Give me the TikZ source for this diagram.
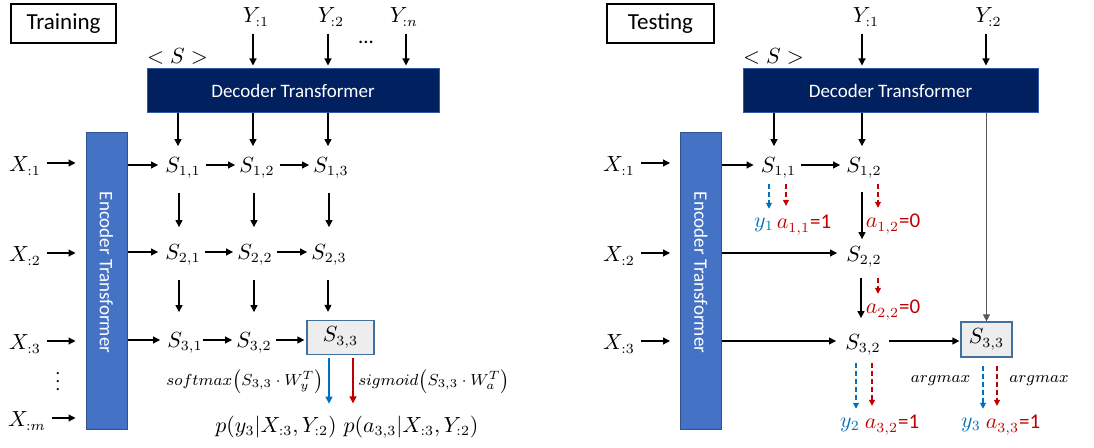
\documentclass[tikz,border=0pt]{standalone}
\usepackage{fontspec}
\setmainfont{Carlito}
\usepackage{graphicx}
\usetikzlibrary{arrows.meta}
\definecolor{navy}{HTML}{002060}
\definecolor{encblue}{HTML}{4472C4}
\definecolor{encborder}{HTML}{2F528F}
\definecolor{arrblue}{HTML}{0070C0}
\definecolor{arrred}{HTML}{C00000}
\definecolor{boxfill}{HTML}{EDEDED}
\definecolor{boxborder}{HTML}{41719C}
\definecolor{lingray}{HTML}{595959}
\tikzset{
  arr/.style={-{Triangle[length=3.5pt,width=3.5pt]}, line width=0.6pt},
  darr/.style={-{Triangle[length=3pt,width=3pt]}, line width=0.55pt, dash pattern=on 2.5pt off 1.5pt},
  mlbl/.style={inner sep=0pt, font=\fontsize{10.5}{12}\selectfont},
  slbl/.style={inner sep=0pt, font=\fontsize{8.5}{10}\selectfont},
  titlebox/.style={draw, line width=0.6pt, inner sep=0pt, minimum height=19.5pt, font=\fontsize{11.5}{13}\selectfont},
  decbox/.style={fill=navy, draw=encblue!70!navy, line width=0.5pt, text=white, inner sep=0pt, minimum height=22pt, font=\fontsize{9.5}{11}\selectfont},
  encbox/.style={fill=encblue, draw=encborder, line width=0.5pt, text=white, inner sep=0pt, minimum width=20.5pt, minimum height=148.5pt, font=\fontsize{9.5}{11}\selectfont},
  sbox/.style={fill=boxfill, draw=boxborder, line width=0.6pt, inner sep=0pt, font=\fontsize{10.5}{12}\selectfont},
  bluetxt/.style={mlbl, text=arrblue},
  redtxt/.style={mlbl, text=arrred},
}
\begin{document}
\begin{tikzpicture}[x=0.5pt, y=-0.5pt]
\useasboundingbox (0,0) rectangle (1094,448);

% ================= TRAINING =================
\node[titlebox, minimum width=52.5pt] (trainT) at (63.5,23.5) {Training};
\node[decbox, minimum width=146pt] (decL) at (293,91) {Decoder Transformer};
\node[encbox] (encL) at (106.5,281.5) {\rotatebox{-90}{Encoder Transformer\hspace{9pt}}};
\node[mlbl] (sL) at (177.5,56) {$<S>$};
\node[mlbl] (yL1) at (256,17) {$Y_{:1}$};
\node[mlbl] (yL2) at (331,17) {$Y_{:2}$};
\node[mlbl] (yLn) at (404,17) {$Y_{:n}$};
\node[mlbl] (dotsL) at (366,42) {...};
\node[mlbl] (xL1) at (25,166) {$X_{:1}$};
\node[mlbl] (xL2) at (25,256) {$X_{:2}$};
\node[mlbl] (xL3) at (25,344) {$X_{:3}$};
\node[inner sep=0pt, font=\fontsize{9}{10}\selectfont] (vdL) at (58,376) {$\vdots$};
\node[mlbl] (xLm) at (27,421) {$X_{:m}$};

\node[mlbl] (L11) at (183,168) {$S_{1,1}$};
\node[mlbl] (L12) at (257,168) {$S_{1,2}$};
\node[mlbl] (L13) at (331,168) {$S_{1,3}$};
\node[mlbl] (L21) at (183,255) {$S_{2,1}$};
\node[mlbl] (L22) at (255,255) {$S_{2,2}$};
\node[mlbl] (L23) at (329,255) {$S_{2,3}$};
\node[mlbl] (L31) at (185,343) {$S_{3,1}$};
\node[mlbl] (L32) at (254,343) {$S_{3,2}$};
\node[sbox, minimum width=33.5pt, minimum height=17pt] (L33) at (340.5,337.5) {$S_{3,3}$};
\node[slbl] (softL) at (245,381) {$softmax\bigl(S_{3,3}\cdot W_y^T\bigr)$};
\node[slbl] (sigL) at (434,381) {$sigmoid\bigl(S_{3,3}\cdot W_a^T\bigr)$};
\node[mlbl] (pYL) at (276,427) {$p(y_3|X_{:3},Y_{:2})$};
\node[mlbl] (pAL) at (411,427) {$p(a_{3,3}|X_{:3},Y_{:2})$};

% inputs to decoder
\draw[arr, shorten <=3.5pt, shorten >=1.5pt] ([xshift=-1.5pt]yL1.south) -- ([xshift=-1.5pt]yL1.south |- decL.north);
\draw[arr, shorten <=3.5pt, shorten >=1.5pt] ([xshift=-1.5pt]yL2.south) -- ([xshift=-1.5pt]yL2.south |- decL.north);
\draw[arr, shorten <=3.5pt, shorten >=1.5pt] ([xshift=1pt]yLn.south) -- ([xshift=1pt]yLn.south |- decL.north);
% decoder to states
\draw[arr, shorten >=5.5pt] ([xshift=-2.5pt]L11.north |- decL.south) -- ([xshift=-2.5pt]L11.north);
\draw[arr, shorten >=5.5pt] ([xshift=-2pt]L12.north |- decL.south) -- ([xshift=-2pt]L12.north);
\draw[arr, shorten >=5.5pt] ([xshift=-1.5pt]L13.north |- decL.south) -- ([xshift=-1.5pt]L13.north);
% X to encoder
\draw[arr, shorten <=3pt, shorten >=5pt] ([yshift=1.5pt]xL1.east) -- ([yshift=1.5pt]xL1.east -| encL.west);
\draw[arr, shorten <=3pt, shorten >=5pt] ([yshift=1.5pt]xL2.east) -- ([yshift=1.5pt]xL2.east -| encL.west);
\draw[arr, shorten <=3pt, shorten >=5pt] ([yshift=1.5pt]xL3.east) -- ([yshift=1.5pt]xL3.east -| encL.west);
\draw[arr, shorten <=3pt, shorten >=5pt] ([yshift=1.5pt]xLm.east) -- ([yshift=1.5pt]xLm.east -| encL.west);
% encoder to states
\draw[arr, shorten >=3.5pt] ([yshift=1.5pt]L11.west -| encL.east) -- ([yshift=1.5pt]L11.west);
\draw[arr, shorten >=3.5pt] ([yshift=1.5pt]L21.west -| encL.east) -- ([yshift=1.5pt]L21.west);
\draw[arr, shorten >=3.5pt] ([yshift=1.5pt]L31.west -| encL.east) -- ([yshift=1.5pt]L31.west);
% horizontal
\draw[arr, shorten <=2.5pt, shorten >=2pt] ([yshift=1.5pt]L11.east) -- ([yshift=1.5pt]L11.east -| L12.west);
\draw[arr, shorten <=2.5pt, shorten >=2pt] ([yshift=1.5pt]L12.east) -- ([yshift=1.5pt]L12.east -| L13.west);
\draw[arr, shorten <=2pt, shorten >=2pt] ([yshift=1.5pt]L21.east) -- ([yshift=1.5pt]L21.east -| L22.west);
\draw[arr, shorten <=2pt, shorten >=2pt] ([yshift=1.5pt]L22.east) -- ([yshift=1.5pt]L22.east -| L23.west);
\draw[arr, shorten <=0pt, shorten >=2pt] ([yshift=1.5pt]L31.east) -- ([yshift=1.5pt]L31.east -| L32.west);
\draw[arr, shorten <=2pt, shorten >=1pt] ([yshift=1.5pt]L32.east) -- ([yshift=1.5pt]L32.east -| L33.west);
% vertical
\draw[arr, shorten <=7pt, shorten >=8.5pt] ([xshift=-2pt]L11.south) -- ([xshift=-2pt]L11.south |- L21.north);
\draw[arr, shorten <=7pt, shorten >=8.5pt] ([xshift=-1.5pt]L12.south) -- ([xshift=-1.5pt]L12.south |- L22.north);
\draw[arr, shorten <=7pt, shorten >=8.5pt] ([xshift=-1pt]L13.south) -- ([xshift=-1pt]L13.south |- L23.north);
\draw[arr, shorten <=7pt, shorten >=10pt] ([xshift=-2pt]L21.south) -- ([xshift=-2pt]L21.south |- L31.north);
\draw[arr, shorten <=7pt, shorten >=10pt] ([xshift=-0.5pt]L22.south) -- ([xshift=-0.5pt]L22.south |- L32.north);
\draw[arr, shorten <=7pt, shorten >=4pt] ([xshift=-0.5pt]L23.south) -- ([xshift=-0.5pt]L23.south |- L33.north);
% outputs
\draw[arr, arrblue, shorten <=1.5pt, shorten >=6pt] ([xshift=-5.75pt]L33.south) -- ([xshift=-5.75pt]L33.south |- pYL.north);
\draw[arr, arrred, shorten <=1.5pt, shorten >=6pt] ([xshift=6.25pt]L33.south) -- ([xshift=6.25pt]L33.south |- pAL.north);

% ================= TESTING =================
\node[titlebox, minimum width=53.5pt] (testT) at (660.5,23.5) {Testing};
\node[decbox, minimum width=147.5pt] (decR) at (890.5,91) {Decoder Transformer};
\node[encbox] (encR) at (701,281.5) {\rotatebox{-90}{Encoder Transformer\hspace{9pt}}};
\node[mlbl] (sR) at (773.5,56) {$<S>$};
\node[mlbl] (yR1) at (866,17) {$Y_{:1}$};
\node[mlbl] (yR2) at (988.5,17) {$Y_{:2}$};
\node[mlbl] (xR1) at (619,166) {$X_{:1}$};
\node[mlbl] (xR2) at (619,256) {$X_{:2}$};
\node[mlbl] (xR3) at (619,344) {$X_{:3}$};

\node[mlbl] (R11) at (778.5,168) {$S_{1,1}$};
\node[mlbl] (R12) at (864,168) {$S_{1,2}$};
\node[mlbl] (R22) at (864,257) {$S_{2,2}$};
\node[mlbl] (R32) at (863,345) {$S_{3,2}$};
\node[sbox, minimum width=25.5pt, minimum height=17.5pt] (R33) at (986.5,339.5) {$S_{3,3}$};

\node[bluetxt] (y1R) at (764,225) {$y_1$};
\node[redtxt] (a11R) at (804,225) {$a_{1,1}$=1};
\node[redtxt] (a12R) at (893,224) {$a_{1,2}$=0};
\node[redtxt] (a22R) at (893,310) {$a_{2,2}$=0};
\node[bluetxt] (y2R) at (850,425) {$y_2$};
\node[redtxt] (a32R) at (892,425) {$a_{3,2}$=1};
\node[bluetxt] (y3R) at (971,425) {$y_3$};
\node[redtxt] (a33R) at (1013,425) {$a_{3,3}$=1};
\node[slbl] (amL) at (940.5,381) {$argmax$};
\node[slbl] (amR) at (1039,381) {$argmax$};

% inputs to decoder
\draw[arr, shorten <=3.5pt, shorten >=1.5pt] ([xshift=-2pt]yR1.south) -- ([xshift=-2pt]yR1.south |- decR.north);
\draw[arr, shorten <=3.5pt, shorten >=1.5pt] ([xshift=-1.25pt]yR2.south) -- ([xshift=-1.25pt]yR2.south |- decR.north);
% decoder to states
\draw[arr, shorten >=5.5pt] ([xshift=-2.25pt]R11.north |- decR.south) -- ([xshift=-2.25pt]R11.north);
\draw[arr, shorten >=5.5pt] ([xshift=-1pt]R12.north |- decR.south) -- ([xshift=-1pt]R12.north);
\draw[arr, lingray] (R33.north |- decR.south) -- (R33.north);
% X to encoder
\draw[arr, shorten <=3pt, shorten >=5pt] ([yshift=1.5pt]xR1.east) -- ([yshift=1.5pt]xR1.east -| encR.west);
\draw[arr, shorten <=3pt, shorten >=5pt] ([yshift=1.5pt]xR2.east) -- ([yshift=1.5pt]xR2.east -| encR.west);
\draw[arr, shorten <=3pt, shorten >=5pt] ([yshift=1.5pt]xR3.east) -- ([yshift=1.5pt]xR3.east -| encR.west);
% encoder to states
\draw[arr, shorten >=3.5pt] ([yshift=1.5pt]R11.west -| encR.east) -- ([yshift=1.5pt]R11.west);
\draw[arr, shorten >=4.5pt] ([yshift=2pt]R22.west -| encR.east) -- ([yshift=2pt]R22.west);
\draw[arr, shorten >=4.5pt] ([yshift=2pt]R32.west -| encR.east) -- ([yshift=2pt]R32.west);
% horizontal
\draw[arr, shorten <=2.5pt, shorten >=3pt] ([yshift=1.5pt]R11.east) -- ([yshift=1.5pt]R11.east -| R12.west);
\draw[arr, shorten <=4pt, shorten >=0.5pt] ([yshift=2pt]R32.east) -- ([yshift=2pt]R32.east -| R33.west);
% vertical
\draw[arr, shorten <=6.5pt, shorten >=3.5pt] ([xshift=-1pt]R12.south) -- ([xshift=-1pt]R12.south |- R22.north);
\draw[arr, shorten <=5pt, shorten >=8pt] ([xshift=-1.5pt]R22.south) -- ([xshift=-1.5pt]R22.south |- R32.north);
% dashed outputs
\draw[darr, arrblue, shorten <=2.5pt, shorten >=4.5pt] ([xshift=-4.75pt]R11.south) -- ([xshift=-4.75pt]R11.south |- y1R.north);
\draw[darr, arrred, shorten <=2.5pt, shorten >=4.5pt] ([xshift=3.75pt]R11.south) -- ([xshift=3.75pt]R11.south |- a11R.north);
\draw[darr, arrred, shorten <=2.5pt, shorten >=3pt] ([xshift=7pt]R12.south) -- ([xshift=7pt]R12.south |- a12R.north);
\draw[darr, arrred, shorten <=5pt, shorten >=3pt] ([xshift=7pt]R22.south) -- ([xshift=7pt]R22.south |- a22R.north);
\draw[darr, arrblue, shorten <=3.5pt, shorten >=4.5pt] ([xshift=-3.5pt]R32.south) -- ([xshift=-3.5pt]R32.south |- y2R.north);
\draw[darr, arrred, shorten <=3.5pt, shorten >=4.5pt] ([xshift=4.5pt]R32.south) -- ([xshift=4.5pt]R32.south |- a32R.north);
\draw[darr, arrblue, shorten <=4pt, shorten >=4.5pt] ([xshift=-1.75pt]R33.south) -- ([xshift=-1.75pt]R33.south |- y3R.north);
\draw[darr, arrred, shorten <=4pt, shorten >=4.5pt] ([xshift=5.25pt]R33.south) -- ([xshift=5.25pt]R33.south |- a33R.north);
\end{tikzpicture}
\end{document}
